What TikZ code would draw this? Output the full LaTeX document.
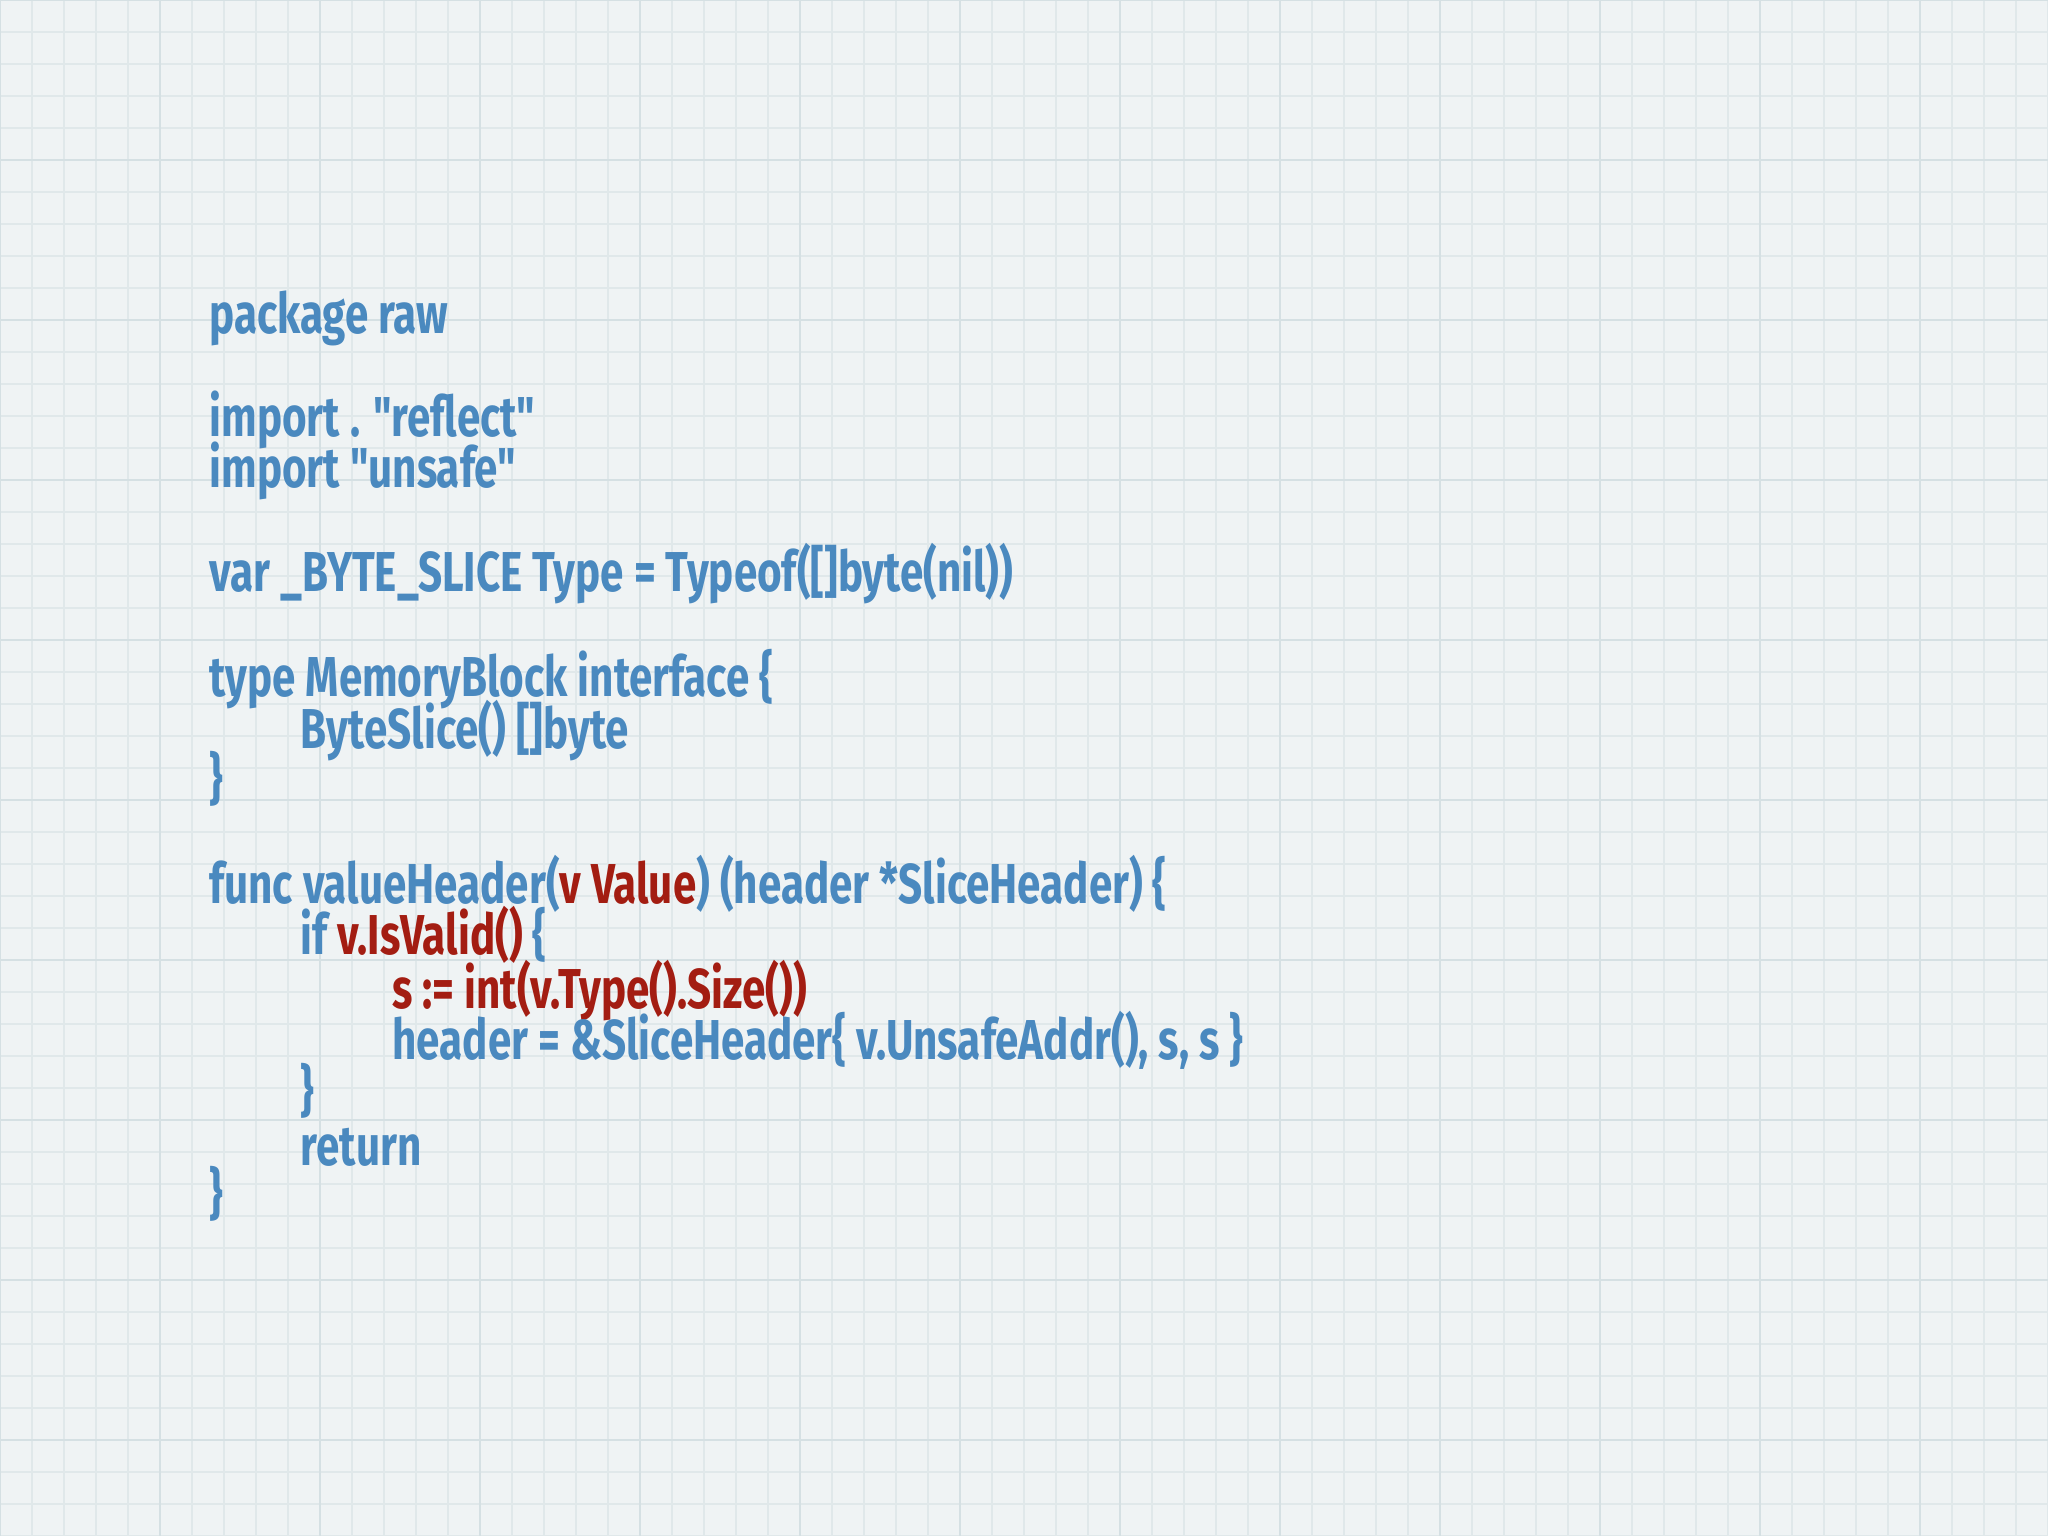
\documentclass[tikz,border=0pt]{standalone}
\usepackage{fontspec}
\newfontfamily\codefont{Fira Sans}
\definecolor{bg}{HTML}{EFF3F4}
\definecolor{gridc}{HTML}{E0E8EA}
\definecolor{gridm}{HTML}{D5E0E3}
\definecolor{codeblue}{HTML}{4A89BF}
\definecolor{codered}{HTML}{A31D12}
\tikzset{code/.style={anchor=base west,inner sep=0pt,text=codeblue,font=\codefont\fontsize{16}{19}\selectfont\bfseries,xscale=0.75}}
\newcommand{\rd}[1]{\textcolor{codered}{#1}}
\begin{document}
\begin{tikzpicture}[x=0.013061cm,y=-0.013061cm]
\fill[bg] (0,0) rectangle (1568,1176);
\useasboundingbox (0,0) rectangle (1568,1176);
\foreach \i in {0,...,64} {\draw[gridc,line width=0.4pt] (\i*24.5,0) -- (\i*24.5,1176);}
\foreach \i in {0,...,48} {\draw[gridc,line width=0.4pt] (0,\i*24.5) -- (1568,\i*24.5);}
\foreach \i in {0,...,13} {\draw[gridm,line width=0.6pt] (\i*122.5,0) -- (\i*122.5,1176);}
\foreach \i in {0,...,10} {\draw[gridm,line width=0.6pt] (0,\i*122.5) -- (1568,\i*122.5);}
\node[code] (l1) at (160,255) {package raw};
\node[code] (l2) at (160,334) {import . "reflect"};
\node[code] (l3) at (160,373) {import "unsafe"};
\node[code] (l4) at (160,453) {var \_BYTE\_SLICE Type = Typeof([]byte(nil))};
\node[code] (l5) at (160,533) {type MemoryBlock interface \{};
\node[code] (l6) at (230,573) {ByteSlice() []byte};
\node[code] (l7) at (160,611) {\}};
\node[code] (l8) at (160,692) {func valueHeader(\rd{v Value}) (header *SliceHeader) \{};
\node[code] (l9) at (230,731) {if \rd{v.IsValid()} \{};
\node[code] (l10) at (300,772) {\rd{s := int(v.Type().Size())}};
\node[code] (l11) at (300,811) {header = \&SliceHeader\{ v.UnsafeAddr(), s, s \}};
\node[code] (l12) at (230,850) {\}};
\node[code] (l13) at (230,892) {return};
\node[code] (l14) at (160,929) {\}};
\end{tikzpicture}
\end{document}
